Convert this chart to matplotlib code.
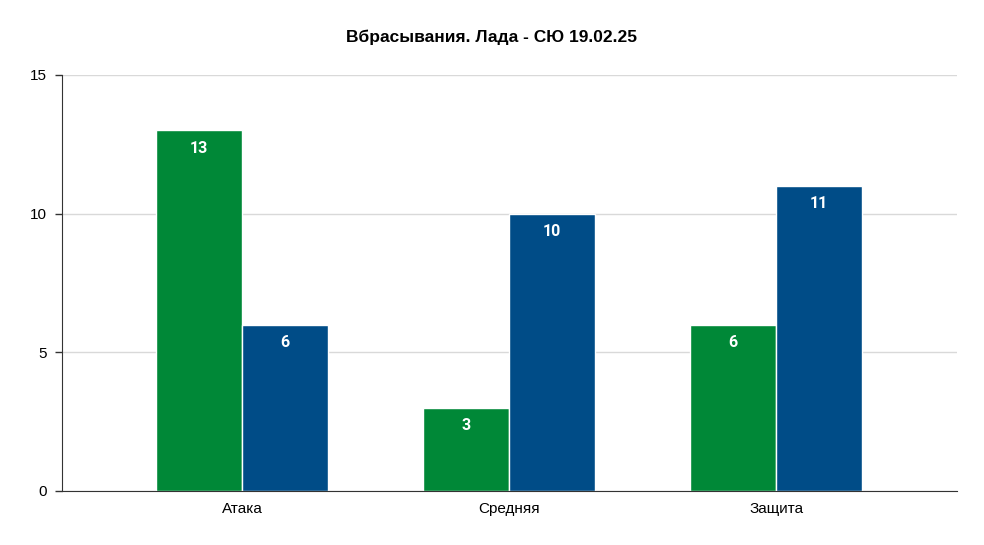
import matplotlib.pyplot as plt
import numpy as np

categories = ['Атака', 'Средняя', 'Защита']
lada = [13, 3, 6]
opponent = [6, 10, 11]
yticks = [0, 5, 10, 15]

green = '#008837'
blue = '#004c87'

fig = plt.figure(figsize=(9.84, 5.45), dpi=100)
ax = fig.add_axes([0.063, 0.0991, 0.9095, 0.7633])

x = np.arange(len(categories))
w = 0.322
bars1 = ax.bar(x - w / 2, lada, w, color=green, edgecolor='white', linewidth=1)
bars2 = ax.bar(x + w / 2, opponent, w, color=blue, edgecolor='white', linewidth=1)

# value labels inside the top of each bar
for bars in (bars1, bars2):
    for b in bars:
        ax.annotate(str(int(b.get_height())),
                    (b.get_x() + b.get_width() / 2, b.get_height()),
                    xytext=(0, -13), textcoords='offset points',
                    ha='center', va='center', color='white',
                    fontsize=11.5, fontweight='bold', family='Roboto')

ax.set_xlim(-0.675, 2.677)
ax.set_ylim(0, 15)
ax.set_yticks(yticks)
ax.set_xticks(x)
ax.set_xticklabels(categories)
ax.tick_params(axis='x', length=0, pad=8, labelsize=11)
ax.tick_params(axis='y', length=5, width=1, color='#333333', pad=6, labelsize=11)
for lbl in ax.get_xticklabels() + ax.get_yticklabels():
    lbl.set_family('Liberation Sans')

ax.grid(axis='y', color='#d9d9d9', linewidth=1)
ax.set_axisbelow(True)
for s in ('top', 'right'):
    ax.spines[s].set_visible(False)
ax.spines['left'].set_color('#333333')
ax.spines['bottom'].set_color('#333333')

fig.suptitle('Вбрасывания. Лада - СЮ 19.02.25', x=0.5, y=0.945,
             fontsize=12.5, fontweight='bold', family='Liberation Sans')

fig.savefig('out.png', dpi=100)
